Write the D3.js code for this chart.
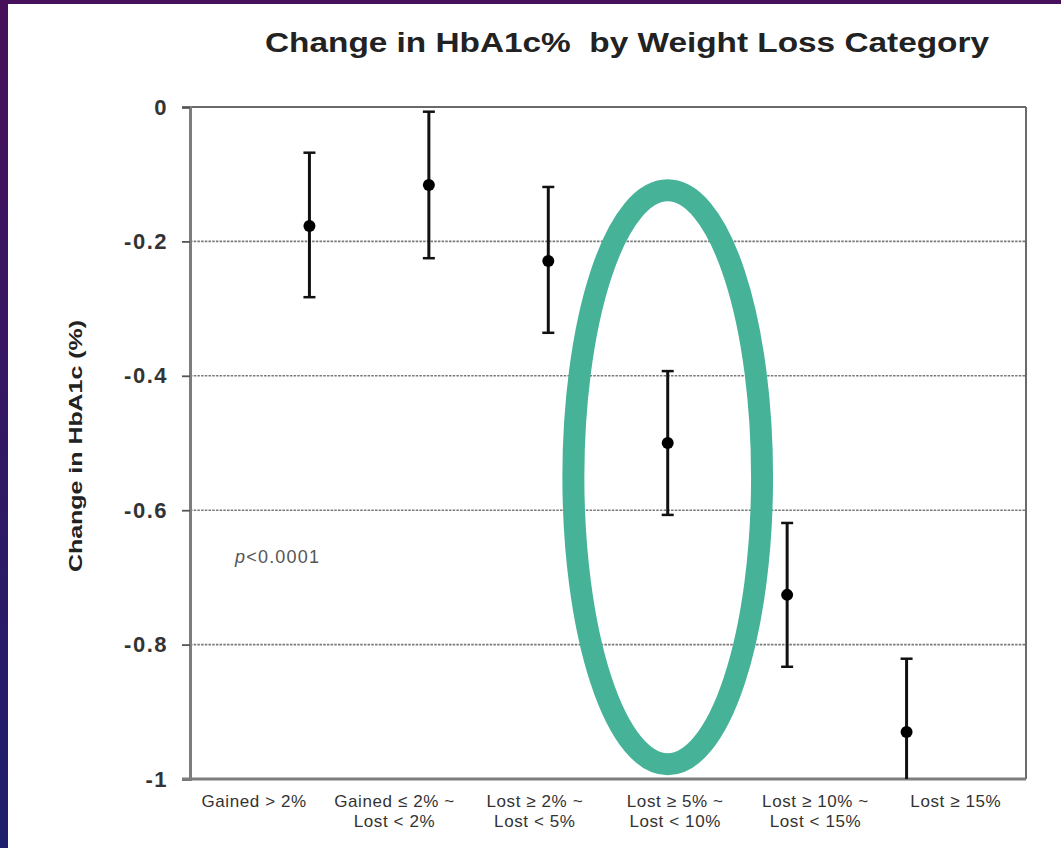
<!DOCTYPE html>
<html>
<head>
<meta charset="utf-8">
<script src="https://cdn.jsdelivr.net/npm/d3@7"></script>
<style>
  html, body { margin: 0; padding: 0; background: #fff; }
  svg { display: block; }
</style>
</head>
<body>
<svg id="chart" width="1061" height="848"></svg>
<script>
// ---- data ----
const categories = ["Gained > 2%", "Gained ≤ 2% ~ Lost < 2%", "Lost ≥ 2% ~ Lost < 5%", "Lost ≥ 5% ~ Lost < 10%", "Lost ≥ 10% ~ Lost < 15%", "Lost ≥ 15%"];
const labelLines = [["Gained > 2%"], ["Gained ≤ 2% ~", "Lost < 2%"], ["Lost ≥ 2% ~", "Lost < 5%"], ["Lost ≥ 5% ~", "Lost < 10%"], ["Lost ≥ 10% ~", "Lost < 15%"], ["Lost ≥ 15%"]];
const means = [-0.177, -0.116, -0.229, -0.500, -0.726, -0.930];
const upper = [-0.068, -0.007, -0.119, -0.393, -0.619, -0.821];
const lower = [-0.283, -0.225, -0.336, -0.607, -0.833, -1.040];
const yTicks = [0, -0.2, -0.4, -0.6, -0.8, -1];
const yTickLabels = ["0", "-0.2", "-0.4", "-0.6", "-0.8", "-1"];
const highlightCategory = "Lost ≥ 5% ~ Lost < 10%";
const highlightRange = [-0.124, -0.978];

const svg = d3.select("#chart");
const W = 1061, H = 848;

// frame gradient (purple slide background)
const defs = svg.append("defs");
const g1 = defs.append("linearGradient").attr("id", "frameGrad").attr("x1", 0).attr("y1", 0).attr("x2", 0).attr("y2", 1);
g1.append("stop").attr("offset", "0%").attr("stop-color", "#47105a");
g1.append("stop").attr("offset", "100%").attr("stop-color", "#1e1f6c");
svg.append("rect").attr("x", 0).attr("y", 0).attr("width", W).attr("height", H).attr("fill", "url(#frameGrad)");
svg.append("rect").attr("x", 8).attr("y", 4).attr("width", W - 8).attr("height", H - 4).attr("fill", "#ffffff");

const plot = { left: 190, right: 1026, top: 107, bottom: 779 };

const x = d3.scalePoint().domain(categories).range([plot.left, plot.right]).padding(1);
const xLabel = d3.scaleBand().domain(categories).range([184, plot.right]);
const y = d3.scaleLinear().domain([-1, 0]).range([plot.bottom, plot.top]);

const data = categories.map((c, i) => ({ c, m: means[i], hi: upper[i], lo: lower[i] }));

// gridlines
svg.append("g").selectAll("line").data(yTicks.filter(v => v !== 0 && v !== -1)).join("line")
  .attr("x1", plot.left).attr("x2", plot.right)
  .attr("y1", d => y(d)).attr("y2", d => y(d))
  .attr("stroke", "#7a7a7a").attr("stroke-width", 1.6).attr("stroke-dasharray", "2.5,1.2");

// plot border (top & right)
svg.append("line").attr("x1", plot.left).attr("x2", plot.right).attr("y1", plot.top).attr("y2", plot.top)
  .attr("stroke", "#6a6a6a").attr("stroke-width", 2);
svg.append("line").attr("x1", plot.right).attr("x2", plot.right).attr("y1", plot.top).attr("y2", plot.bottom)
  .attr("stroke", "#6a6a6a").attr("stroke-width", 2);

// y axis
const yAxis = d3.axisLeft(y).tickValues(yTicks).tickFormat((d, i) => yTickLabels[i]).tickSize(8).tickPadding(14);
const yg = svg.append("g").attr("transform", `translate(${plot.left},0)`).call(yAxis);
yg.select(".domain").attr("stroke", "#7d7d7d").attr("stroke-width", 3);
yg.selectAll(".tick line").attr("stroke", "#555").attr("stroke-width", 1.8);
yg.selectAll(".tick text")
  .attr("font-family", "Liberation Sans, Arial, sans-serif")
  .attr("font-size", 22).attr("font-weight", "bold").attr("fill", "#333")
  .attr("letter-spacing", 1.5);

// bottom axis line
svg.append("line").attr("x1", plot.left - 8).attr("x2", plot.right).attr("y1", plot.bottom).attr("y2", plot.bottom)
  .attr("stroke", "#7d7d7d").attr("stroke-width", 3);

// x labels
const xl = svg.append("g").selectAll("text").data(categories).join("text")
  .attr("x", d => xLabel(d) + xLabel.bandwidth() / 2)
  .attr("y", 807)
  .attr("text-anchor", "middle")
  .attr("font-family", "Liberation Sans, Arial, sans-serif")
  .attr("font-size", 17).attr("fill", "#333").attr("letter-spacing", 0.6);
xl.each(function(d, i) {
  const t = d3.select(this);
  labelLines[i].forEach((ln, j) => {
    t.append("tspan").attr("x", xLabel(d) + xLabel.bandwidth() / 2).attr("dy", j === 0 ? 0 : 20).text(ln);
  });
});

// clip for error bars
defs.append("clipPath").attr("id", "plotClip").append("rect")
  .attr("x", plot.left).attr("y", plot.top - 10).attr("width", plot.right - plot.left).attr("height", plot.bottom - plot.top + 10);

const marks = svg.append("g").attr("clip-path", "url(#plotClip)");
const capW = 6;
marks.selectAll(".err").data(data).join("line").attr("class", "err")
  .attr("x1", d => x(d.c)).attr("x2", d => x(d.c))
  .attr("y1", d => y(d.hi)).attr("y2", d => y(d.lo))
  .attr("stroke", "#111").attr("stroke-width", 3);
marks.selectAll(".capTop").data(data).join("line").attr("class", "capTop")
  .attr("x1", d => x(d.c) - capW).attr("x2", d => x(d.c) + capW)
  .attr("y1", d => y(d.hi)).attr("y2", d => y(d.hi))
  .attr("stroke", "#111").attr("stroke-width", 2.5);
marks.selectAll(".capBot").data(data.filter(d => d.lo >= -1)).join("line").attr("class", "capBot")
  .attr("x1", d => x(d.c) - capW).attr("x2", d => x(d.c) + capW)
  .attr("y1", d => y(d.lo)).attr("y2", d => y(d.lo))
  .attr("stroke", "#111").attr("stroke-width", 2.5);
marks.selectAll(".dot").data(data).join("circle").attr("class", "dot")
  .attr("cx", d => x(d.c)).attr("cy", d => y(d.m)).attr("r", 6)
  .attr("fill", "#000");

// p-value
const pt = svg.append("text").attr("x", 235).attr("y", 563)
  .attr("font-family", "Liberation Sans, Arial, sans-serif").attr("font-size", 18).attr("fill", "#555")
  .attr("letter-spacing", 1.2);
pt.append("tspan").attr("font-style", "italic").text("p");
pt.append("tspan").text("<0.0001");

// title
svg.append("text").attr("x", 627).attr("y", 52).attr("text-anchor", "middle")
  .attr("font-family", "Liberation Sans, Arial, sans-serif").attr("font-size", 27).attr("font-weight", "bold")
  .attr("fill", "#222").attr("textLength", 724).attr("lengthAdjust", "spacingAndGlyphs")
  .style("white-space", "pre")
  .text("Change in HbA1c%  by Weight Loss Category");

// y axis title
svg.append("text").attr("transform", "translate(82,446) rotate(-90)").attr("text-anchor", "middle")
  .attr("font-family", "Liberation Sans, Arial, sans-serif").attr("font-size", 19).attr("font-weight", "bold")
  .attr("fill", "#222").attr("textLength", 252).attr("lengthAdjust", "spacingAndGlyphs")
  .text("Change in HbA1c (%)");

// highlight ellipse
const cy = (y(highlightRange[0]) + y(highlightRange[1])) / 2;
const ry = (y(highlightRange[1]) - y(highlightRange[0])) / 2;
svg.append("ellipse")
  .attr("cx", x(highlightCategory)).attr("cy", cy)
  .attr("rx", x.step() * 0.79).attr("ry", ry)
  .attr("fill", "none").attr("stroke", "#46b398").attr("stroke-width", 22);
</script>
</body>
</html>
